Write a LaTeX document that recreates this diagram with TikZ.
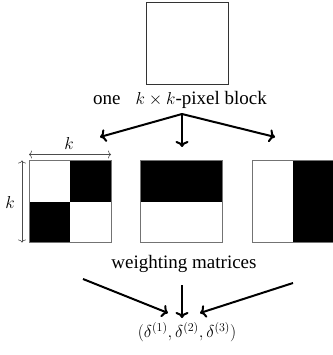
\documentclass[tikz,border=0pt]{standalone}
\usepackage{fontspec}
\setmainfont{Liberation Serif}
\usetikzlibrary{arrows.meta}
\begin{document}
\begin{tikzpicture}[x=1pt,y=-1pt,
  sq/.style={minimum size=82pt,inner sep=0pt,outer sep=0pt},
  frame/.style={draw=black!55,line width=0.8pt},
  bigarrow/.style={line width=2pt,-{To[length=6pt,width=13pt,line width=2pt]}},
  dim/.style={draw=black!70,line width=0.6pt,{To[length=3pt,width=8pt]}-{To[length=3pt,width=8pt]}},
  lbl/.style={font=\fontsize{19}{22}\selectfont,inner sep=0pt}]
\useasboundingbox (0,0) rectangle (332,355);
% top block
\node[sq,draw=black!80,line width=0.8pt] (top) at (187,43) {};
\node[lbl] (toplbl) at (180,100) {one\hspace{0.8em}$k\times k$-pixel block};
\coordinate (apex) at (182,114);
\coordinate (tl) at (100,137);
\coordinate (tc) at (182,147);
\coordinate (tr) at (275,137);
\draw[bigarrow] (apex) -- (tl);
\draw[bigarrow] (apex) -- (tc);
\draw[bigarrow] (apex) -- (tr);
% weighting squares
\node[sq] (sqA) at (70,201.5) {};
\node[sq] (sqB) at (181,201.5) {};
\node[sq] (sqC) at (293,201.5) {};
\fill (sqA.north) rectangle (sqA.east);
\fill (sqA.west) rectangle (sqA.south);
\fill (sqB.north west) rectangle (sqB.east);
\fill (sqC.north) rectangle (sqC.south east);
\draw[frame] (sqA.north west) rectangle (sqA.south east);
\draw[frame] (sqB.north west) rectangle (sqB.south east);
\draw[frame] (sqC.north west) rectangle (sqC.south east);
% dimensions
\draw[dim] ([yshift=6pt]sqA.north west) -- ([yshift=6pt]sqA.north east);
\draw[dim] ([xshift=-7pt]sqA.north west) -- ([xshift=-7pt]sqA.south west);
\node[lbl] (kh) at (69,144) {$k$};
\node[lbl] (kv) at (10,202) {$k$};
\node[lbl] (wm) at (184,264) {weighting matrices};
% bottom arrows
\coordinate (bl0) at (83,279);
\coordinate (bl1) at (168,313);
\coordinate (bc0) at (182,285);
\coordinate (bc1) at (182,318);
\coordinate (br0) at (293,283);
\coordinate (br1) at (200,313);
\draw[bigarrow] (bl0) -- (bl1);
\draw[bigarrow] (bc0) -- (bc1);
\draw[bigarrow] (br0) -- (br1);
\node[lbl,font=\fontsize{18}{21}\selectfont] (delta) at (187,332) {$(\delta^{(1)},\delta^{(2)},\delta^{(3)})$};
\end{tikzpicture}
\end{document}
